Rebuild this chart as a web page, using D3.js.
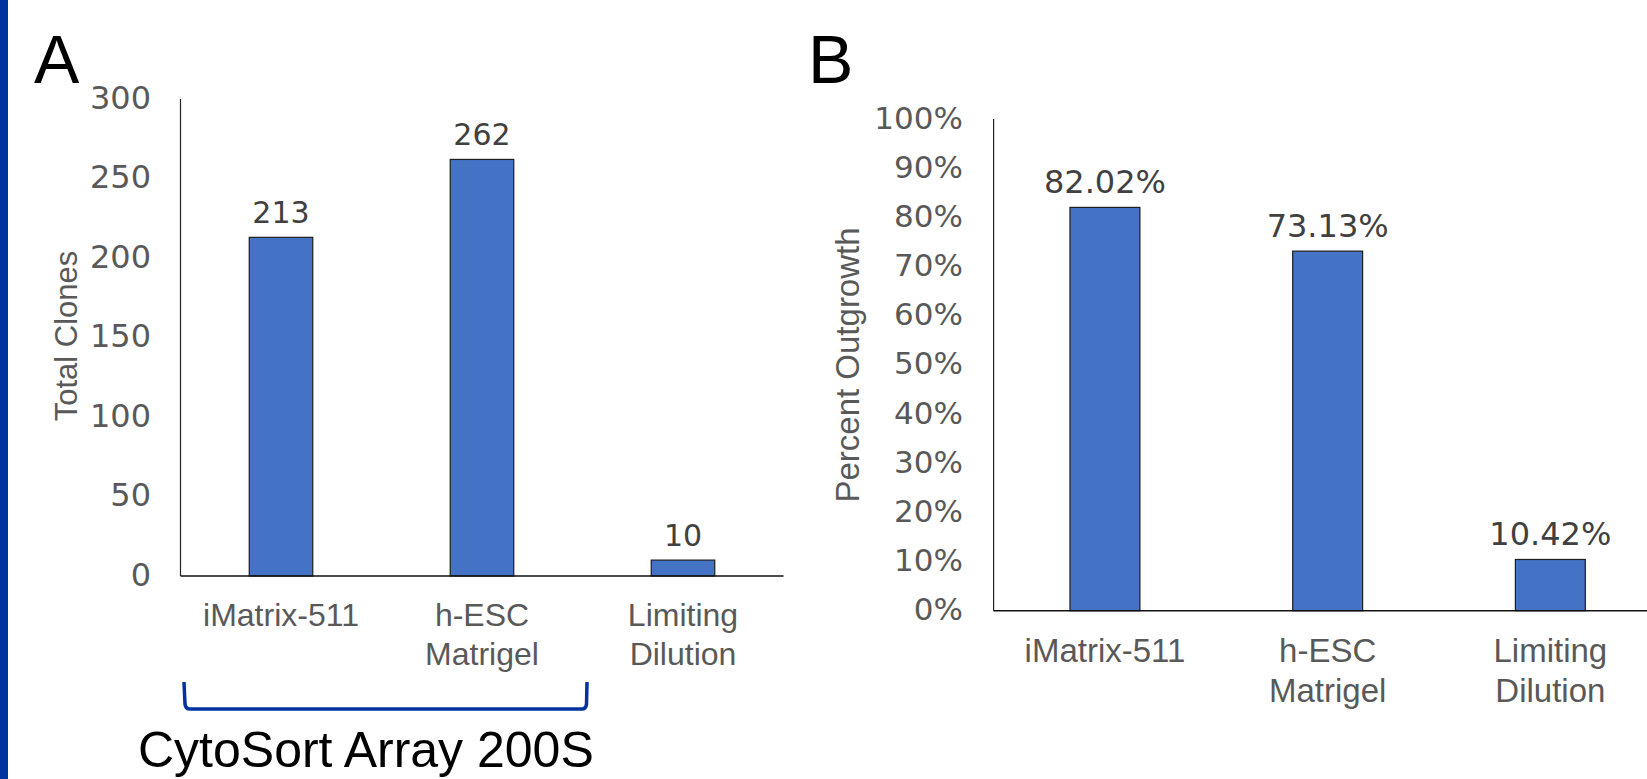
<!DOCTYPE html>
<html>
<head>
<meta charset="utf-8">
<script src="https://cdn.jsdelivr.net/npm/d3@7"></script>
<style>
  html, body { margin: 0; padding: 0; background: #fff; }
  svg { display: block; }
</style>
</head>
<body>
<svg id="chart" width="1647" height="779"></svg>
<script>
// ---- data ----
const categories = ["iMatrix-511", "h-ESC Matrigel", "Limiting Dilution"];
const categoryLines = [["iMatrix-511"], ["h-ESC", "Matrigel"], ["Limiting", "Dilution"]];
const totalClones = [213, 262, 10];
const percentOutgrowth = [82.02, 73.13, 10.42];
const ticksA = [0, 50, 100, 150, 200, 250, 300];
const ticksB = [0, 10, 20, 30, 40, 50, 60, 70, 80, 90, 100];
const labelA = "A", labelB = "B";
const titleA = "Total Clones", titleB = "Percent Outgrowth";
const bracketText = "CytoSort Array 200S";

// ---- styles ----
const BAR_FILL = "#4472C4", BAR_STROKE = "#1e1e1e", NAVY = "#0033A0";
const TICK_COL = "#595959", VAL_COL = "#404040";
const SANS = "'Liberation Sans', Arial, sans-serif";
const WIDE = "'DejaVu Sans', Verdana, sans-serif";

const svg = d3.select("#chart");
svg.append("rect").attr("x", 0).attr("y", 0).attr("width", 1647).attr("height", 779).attr("fill", "#fff");
// left accent stripe
svg.append("rect").attr("x", 0).attr("y", 0).attr("width", 8).attr("height", 779).attr("fill", NAVY);

function panel(opts) {
  const g = svg.append("g");
  const x = d3.scaleBand().domain(categories).range(opts.xRange)
    .paddingInner(opts.padIn).paddingOuter(opts.padIn / 2);
  const y = d3.scaleLinear().domain(opts.yDomain).range(opts.yRange);

  // y tick labels (no tick lines)
  const yAxis = d3.axisLeft(y).tickValues(opts.ticks).tickSize(0).tickPadding(0)
    .tickFormat(opts.tickFmt);
  const ya = g.append("g").attr("transform", `translate(${opts.labelRight},0)`).call(yAxis);
  ya.select(".domain").remove();
  ya.selectAll("text").attr("font-family", WIDE).attr("font-size", opts.tickSize)
    .attr("fill", TICK_COL).attr("dy", null).attr("dominant-baseline", "auto")
    .attr("y", 9).attr("x", 0);

  // bars
  g.selectAll("rect.bar").data(opts.values).join("rect").attr("class", "bar")
    .attr("x", (d, i) => x(categories[i]))
    .attr("width", x.bandwidth())
    .attr("y", d => y(d))
    .attr("height", d => y(0) - y(d))
    .attr("fill", BAR_FILL).attr("stroke", BAR_STROKE).attr("stroke-width", 1.2);

  // value labels
  g.selectAll("text.val").data(opts.values).join("text").attr("class", "val")
    .attr("x", (d, i) => x(categories[i]) + x.bandwidth() / 2)
    .attr("y", d => y(d) - 14)
    .attr("text-anchor", "middle")
    .attr("font-family", WIDE).attr("font-size", opts.valSize).attr("fill", VAL_COL)
    .text(opts.valFmt);

  // axes lines
  const x0 = opts.xRange[0];
  g.append("line").attr("x1", x0).attr("x2", x0).attr("y1", y(opts.yDomain[1])).attr("y2", y(0))
    .attr("stroke", "#222").attr("stroke-width", 1.2);
  g.append("line").attr("x1", x0).attr("x2", opts.xRange[1]).attr("y1", y(0)).attr("y2", y(0))
    .attr("stroke", "#111").attr("stroke-width", 1.5);

  // category labels
  const xl = g.selectAll("text.cat").data(categories).join("text").attr("class", "cat")
    .attr("text-anchor", "middle")
    .attr("font-family", SANS).attr("font-size", opts.catSize).attr("fill", TICK_COL);
  xl.each(function (c, i) {
    const t = d3.select(this);
    categoryLines[i].forEach((ln, k) => {
      t.append("tspan").attr("x", x(c) + x.bandwidth() / 2)
        .attr("y", y(0) + opts.catOffset + k * opts.catLine).text(ln);
    });
  });

  // y title
  g.append("text")
    .attr("transform", `translate(${opts.titleX},${opts.titleY}) rotate(-90)`)
    .attr("text-anchor", "middle")
    .attr("font-family", SANS).attr("font-size", opts.titleSize).attr("fill", TICK_COL)
    .text(opts.title);

  // panel letter
  g.append("text").attr("x", opts.letterX).attr("y", 83)
    .attr("font-family", SANS).attr("font-size", 68).attr("fill", "#000")
    .text(opts.letter);
  return { x, y };
}

const A = panel({
  xRange: [180.5, 783.5], padIn: 0.684,
  yDomain: [0, 300], yRange: [576, 99], ticks: ticksA, tickFmt: d3.format("d"),
  labelRight: 151, tickSize: 32,
  values: totalClones, valFmt: d => d3.format("d")(d), valSize: 30,
  catSize: 32, catOffset: 50, catLine: 39,
  title: titleA, titleX: 77, titleY: 336, titleSize: 31,
  letter: labelA, letterX: 34
});

const B = panel({
  xRange: [993.6, 1661.7], padIn: 0.686,
  yDomain: [0, 100], yRange: [610.7, 119], ticks: ticksB, tickFmt: d => d + "%",
  labelRight: 963, tickSize: 31,
  values: percentOutgrowth, valFmt: d => d3.format(".2f")(d) + "%", valSize: 32,
  catSize: 33, catOffset: 51, catLine: 40,
  title: titleB, titleX: 859, titleY: 365, titleSize: 33,
  letter: labelB, letterX: 808
});

// bracket under first two categories of panel A
const bl = A.x.range()[0] + 3.5;
const br = bl + 2 * A.x.step() + 1;
svg.append("path")
  .attr("d", `M${bl},682 L${bl + 1},704 Q${bl + 1.5},709 ${bl + 6},709 L${br - 5},709 Q${br - 1},709 ${br - 0.5},704 L${br},682`)
  .attr("fill", "none").attr("stroke", NAVY).attr("stroke-width", 3.5);

svg.append("text").attr("x", 138).attr("y", 767)
  .attr("font-family", SANS).attr("font-size", 50).attr("fill", "#000")
  .text(bracketText);
</script>
</body>
</html>
